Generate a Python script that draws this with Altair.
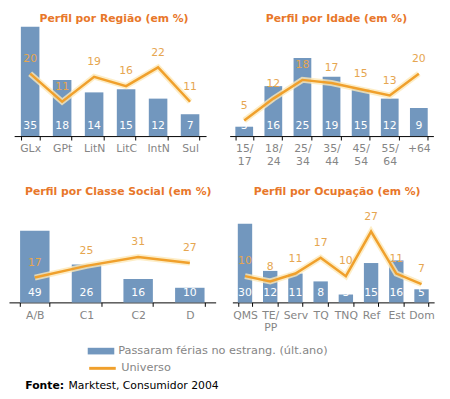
import altair as alt
import pandas as pd

BAR_NAME = "Passaram férias no estrang. (últ.ano)"
LINE_NAME = "Universo"
SOURCE_LABEL = "Fonte:"
SOURCE_TEXT = "Marktest, Consumidor 2004"

regiao_cats = ["GLx", "GPt", "LitN", "LitC", "IntN", "Sul"]
regiao_bars = [35, 18, 14, 15, 12, 7]
regiao_line = [20, 11, 19, 16, 22, 11]

idade_cats = ["15/17", "18/24", "25/34", "35/44", "45/54", "55/64", "+64"]
idade_bars = [3, 16, 25, 19, 15, 12, 9]
idade_line = [5, 12, 18, 17, 15, 13, 20]

classe_cats = ["A/B", "C1", "C2", "D"]
classe_bars = [49, 26, 16, 10]
classe_line = [17, 25, 31, 27]

ocup_cats = ["QMS", "TE/PP", "Serv", "TQ", "TNQ", "Ref", "Est", "Dom"]
ocup_bars = [30, 12, 11, 8, 3, 15, 16, 5]
ocup_line = [10, 8, 11, 17, 10, 27, 11, 7]

FONT = "DejaVu Sans"
BLUE = "#7297BE"
ORANGE = "#F0A02C"
HALO = "#FCE9B8"
LABEL_ORANGE = "#E6A650"
TITLE_ORANGE = "#E8772A"
GRAY = "#858585"

fill_legend = alt.Legend(
    orient="none", legendX=80, legendY=316, title=None, padding=0,
    symbolType="M-1,-0.25H1V0.25H-1Z", symbolSize=729, symbolStrokeWidth=0,
    labelFont=FONT, labelFontSize=11.5, labelColor=GRAY, labelOffset=4, labelLimit=0,
)
stroke_legend = alt.Legend(
    orient="none", legendX=80, legendY=332, title=None, padding=0,
    symbolType="stroke", symbolSize=729, symbolStrokeWidth=3,
    labelFont=FONT, labelFontSize=11.5, labelColor=GRAY, labelOffset=4, labelLimit=0,
)


def panel(title, cats, bars, line, width, height, ymax, pad_inner,
          split=False, right_space=False, title_dx=0):
    df = pd.DataFrame({"cat": cats, "bar": bars, "line": line,
                       "s_bar": BAR_NAME, "s_line": LINE_NAME})
    label_expr = "split(replace(datum.label, '/', '/|'), '|')" if split else "datum.label"
    xenc = alt.X(
        "cat:N", sort=cats, title=None,
        scale=alt.Scale(paddingInner=pad_inner, paddingOuter=pad_inner / 2),
        axis=alt.Axis(labelAngle=0, tickBand="extent", domainColor="black",
                      tickColor="black", tickSize=4, labelFont=FONT,
                      labelFontSize=11, labelColor=GRAY, labelPadding=3,
                      labelExpr=label_expr, labelLineHeight=13, grid=False),
    )
    if right_space:
        yaxis = alt.Axis(orient="right", domain=False, labels=False, ticks=True,
                         tickColor="transparent", tickSize=4, grid=False,
                         title=None)
    else:
        yaxis = None
    yscale = alt.Scale(domain=[0, ymax], nice=False)

    def Y(field):
        return alt.Y(field, scale=yscale, axis=yaxis, title=None)

    base = alt.Chart(df).encode(x=xenc)
    bar = base.mark_bar().encode(
        y=Y("bar:Q"),
        fill=alt.Fill("s_bar:N", scale=alt.Scale(domain=[BAR_NAME], range=[BLUE]),
                      legend=fill_legend),
    )
    bar_text = base.mark_text(color="white", baseline="alphabetic", dy=-7,
                              font=FONT, fontSize=11).encode(
        y=alt.Y(datum=0, scale=yscale, axis=yaxis, title=None), text="bar:Q")
    halo = base.mark_line(color=HALO, strokeWidth=6, opacity=0.8).encode(y=Y("line:Q"))
    ln = base.mark_line(strokeWidth=2.5).encode(
        y=Y("line:Q"),
        stroke=alt.Stroke("s_line:N", scale=alt.Scale(domain=[LINE_NAME], range=[ORANGE]),
                          legend=stroke_legend),
    )
    ln_text = base.mark_text(color=LABEL_ORANGE, baseline="middle", dy=-15,
                             font=FONT, fontSize=11).encode(y=Y("line:Q"), text="line:Q")
    return alt.layer(bar, bar_text, halo, ln, ln_text).properties(
        width=width, height=height,
        title=alt.TitleParams(title, font=FONT, fontSize=11, fontWeight="bold",
                              color=TITLE_ORANGE, anchor="middle", offset=3, dx=title_dx),
    )


p1 = panel("Perfil por Região (em %)", regiao_cats, regiao_bars, regiao_line,
           195, 111, 35, 0.42, title_dx=4)
p2 = panel("Perfil por Idade (em %)", idade_cats, idade_bars, idade_line,
           207, 111, 35, 0.39, split=True, title_dx=5)
p3 = panel("Perfil por Classe Social (em %)", classe_cats, classe_bars, classe_line,
           210, 104, 70, 0.43, title_dx=6)
p4 = panel("Perfil por Ocupação (em %)", ocup_cats, ocup_bars, ocup_line,
           205, 104, 39, 0.43, split=True, right_space=True, title_dx=4)

row1 = alt.hconcat(p1, p2, spacing=22)
row2 = alt.hconcat(p3, p4, spacing=15)

inner = alt.vconcat(row1, row2, spacing=18, center=True).properties(
    title=alt.TitleParams(
        SOURCE_TEXT, orient="bottom", anchor="start", dx=61, dy=47, offset=0,
        baseline="top", font=FONT, fontSize=11, fontWeight="normal", color="black",
    ),
)

chart = alt.vconcat(inner).properties(
    title=alt.TitleParams(
        SOURCE_LABEL, orient="bottom", anchor="start", dx=17, dy=-10, offset=0,
        baseline="top", font=FONT, fontSize=11, fontWeight="bold", color="black",
    ),
    padding={"left": 0, "top": 1, "right": 3, "bottom": 3},
).configure_view(stroke="transparent")

chart.save("out.html", embed_options={"renderer": "svg", "actions": False})
